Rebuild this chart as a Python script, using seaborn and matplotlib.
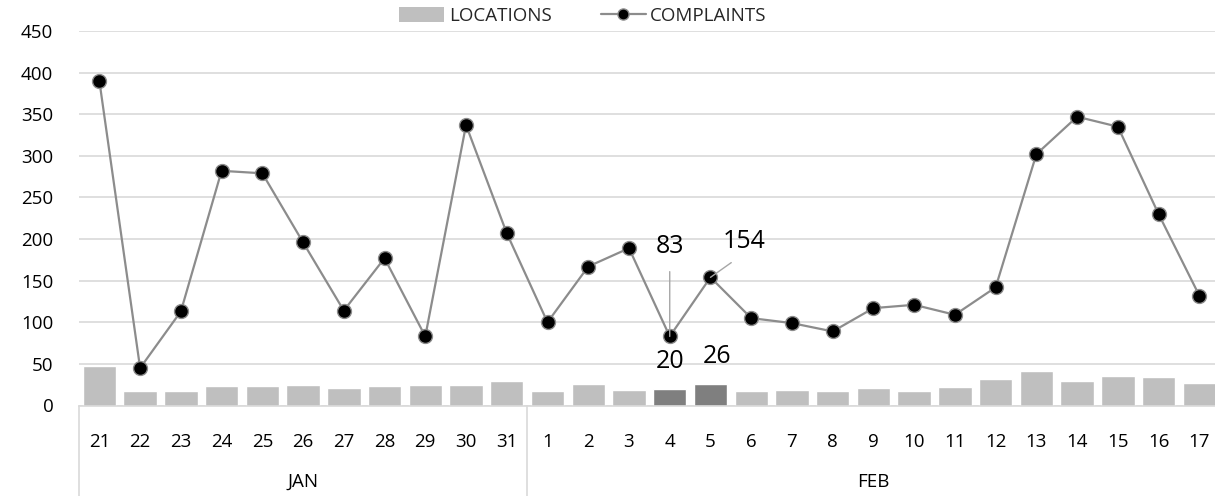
import numpy as np
import pandas as pd
import matplotlib
matplotlib.use("Agg")
import matplotlib.pyplot as plt
import matplotlib.transforms as mtransforms
from matplotlib.patches import Patch
from matplotlib.lines import Line2D
import seaborn as sns

# ---- data -------------------------------------------------------------
days = ["21", "22", "23", "24", "25", "26", "27", "28", "29", "30", "31",
        "1", "2", "3", "4", "5", "6", "7", "8", "9", "10", "11", "12", "13",
        "14", "15", "16", "17"]
months = ["JAN"] * 11 + ["FEB"] * 17
locations = [48, 17, 17, 24, 23, 25, 21, 23, 25, 25, 29,
             18, 26, 19, 20, 26, 17, 19, 17, 21, 17, 22, 32, 41, 29, 35, 34, 27]
complaints = [390, 45, 113, 282, 279, 196, 114, 177, 83, 337, 207,
              100, 167, 189, 83, 154, 105, 99, 89, 117, 121, 109, 142, 302,
              347, 335, 230, 132]
highlight_days = ["4", "5"]

df = pd.DataFrame({"day": days, "month": months,
                   "locations": locations, "complaints": complaints})
df["pos"] = np.arange(len(df))

# ---- styling ----------------------------------------------------------
sns.set_theme(style="white")
plt.rcParams["font.family"] = ["Open Sans", "DejaVu Sans"]

BAR = "#bfbfbf"
BAR_HI = "#7f7f7f"
LINE = "#8c8c8c"
GRID = "#d9d9d9"
TXT = "#000000"
FS = 13.5

fig = plt.figure(figsize=(12.15, 4.96), dpi=100)
ax = fig.add_axes([79 / 1215, 90.5 / 496, 1 - 79 / 1215, 374.5 / 496])

palette = {d: (BAR_HI if d in highlight_days else BAR) for d in days}
sns.barplot(data=df, x="day", y="locations", hue="day", order=days,
            palette=palette, width=0.82, saturation=1, legend=False,
            ax=ax, zorder=2)

sns.lineplot(data=df, x="pos", y="complaints", ax=ax, color=LINE,
             linewidth=1.6, marker="o", markersize=10,
             markerfacecolor="black", markeredgecolor=LINE,
             markeredgewidth=1.0, zorder=4)

# ---- axes -------------------------------------------------------------
n = len(days)
ax.set_xlim(-0.5, -0.5 + 1136 / 40.74)
ax.set_ylim(0, 450)
ax.set_yticks(range(0, 451, 50))
ax.set_xticks(range(n))
ax.set_xticklabels(days)
ax.set_xlabel("")
ax.set_ylabel("")
ax.yaxis.grid(True, color=GRID, linewidth=1.2, zorder=0)
ax.set_axisbelow(True)
for s in ("top", "right", "left"):
    ax.spines[s].set_visible(False)
ax.spines["bottom"].set_color(GRID)
ax.spines["bottom"].set_linewidth(1.2)
ax.tick_params(axis="x", length=0, pad=20, labelsize=FS, colors=TXT)
ax.tick_params(axis="y", length=0, pad=18.5, labelsize=FS, colors=TXT)

# month groups with separators below the day labels
trans = mtransforms.blended_transform_factory(ax.transData, ax.transAxes)
bounds = [-0.5]
for m in ["JAN", "FEB"]:
    idx = df.index[df["month"] == m]
    bounds.append(idx.max() + 0.5)
    ax.text((idx.min() + idx.max()) / 2, -0.204, m, transform=trans,
            ha="center", va="center", fontsize=FS, color=TXT)
for b in bounds:
    ax.add_line(Line2D([b, b], [0, -0.3], transform=trans, color=GRID,
                       linewidth=1.2, clip_on=False))

# ---- value labels for the highlighted days ----------------------------
i4 = days.index("4")
i5 = days.index("5")
LBL = 18
ax.annotate(f"{complaints[i4]}", xy=(i4, complaints[i4]),
            xytext=(0, 65), textcoords="offset points", ha="center",
            va="center", fontsize=LBL, color=TXT, zorder=5,
            arrowprops=dict(arrowstyle="-", color="#a6a6a6", lw=1.0,
                            shrinkA=7, shrinkB=0, relpos=(0.5, 0)))
ax.annotate(f"{complaints[i5]}", xy=(i5, complaints[i5]),
            xytext=(24, 26), textcoords="offset points", ha="center",
            va="center", fontsize=LBL, color=TXT, zorder=5,
            arrowprops=dict(arrowstyle="-", color="#a6a6a6", lw=1.0,
                            shrinkA=7, shrinkB=0, relpos=(0.5, 0)))
ax.annotate(f"{locations[i4]}", xy=(i4, locations[i4]),
            xytext=(0, 20), textcoords="offset points", ha="center",
            va="center", fontsize=LBL, color=TXT)
ax.annotate(f"{locations[i5]}", xy=(i5, locations[i5]),
            xytext=(5, 20), textcoords="offset points", ha="center",
            va="center", fontsize=LBL, color=TXT)

# ---- legend -----------------------------------------------------------
handles = [
    Patch(facecolor=BAR, edgecolor="none"),
    Line2D([0], [0], color=LINE, linewidth=1.6, marker="o", markersize=8,
           markerfacecolor="black", markeredgecolor=LINE),
]
fig.legend(handles, ["LOCATIONS", "COMPLAINTS"], loc="center",
           bbox_to_anchor=(583 / 1215, 1 - 16 / 496), ncol=2, frameon=False,
           fontsize=FS, handlelength=2.4, handleheight=0.9,
           handletextpad=0.25, columnspacing=2.6, borderpad=0)

fig.savefig("out.png", dpi=100)
